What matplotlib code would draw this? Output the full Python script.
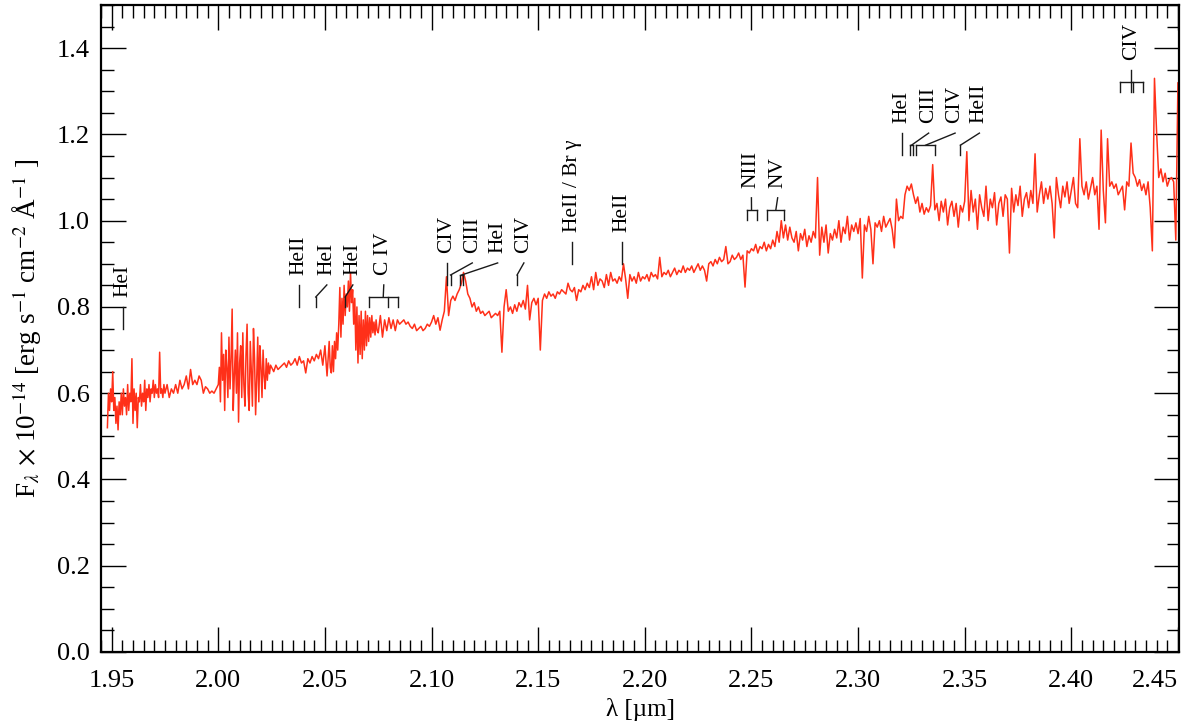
import numpy as np
import matplotlib
matplotlib.use('Agg')
import matplotlib.pyplot as plt
from matplotlib.ticker import MultipleLocator, FormatStrFormatter

plt.rcParams['font.family'] = ['Liberation Serif', 'DejaVu Serif']
plt.rcParams['mathtext.fontset'] = 'stix'

seg_a_start, seg_a_step = 1.948, 0.0005
seg_a = [
    0.52, 0.60, 0.56, 0.61, 0.58, 0.65, 0.56, 0.59, 0.53, 0.57,
    0.515, 0.58, 0.55, 0.60, 0.55, 0.61, 0.57, 0.59, 0.55, 0.62,
    0.56, 0.60, 0.58, 0.68, 0.53, 0.61, 0.56, 0.60, 0.52, 0.59,
    0.58, 0.62, 0.57, 0.60, 0.58, 0.63, 0.56, 0.61, 0.59, 0.62,
    0.58, 0.61, 0.60, 0.63, 0.59, 0.62, 0.60, 0.61, 0.59, 0.695,
    0.60, 0.61, 0.59, 0.62, 0.60,
]
seg_b_start, seg_b_step = 1.976, 0.001
seg_b = [
    0.62, 0.59, 0.61, 0.60,
    0.62, 0.60, 0.63, 0.61, 0.62, 0.64, 0.61, 0.655, 0.62, 0.63,
    0.62, 0.64, 0.63, 0.60, 0.615, 0.61, 0.60, 0.605, 0.60, 0.61,
]
seg_c_start, seg_c_step = 2.000, 0.0005
seg_c = [
    0.62, 0.66, 0.58, 0.74, 0.63, 0.69, 0.56, 0.70, 0.66, 0.59,
    0.73, 0.61, 0.68, 0.795, 0.56, 0.64, 0.70, 0.60, 0.74, 0.533,
    0.67, 0.71, 0.59, 0.74, 0.62, 0.57, 0.69, 0.76, 0.60, 0.56,
    0.72, 0.65, 0.57, 0.75, 0.68, 0.55, 0.63, 0.73, 0.58, 0.71,
    0.66, 0.59, 0.70, 0.64, 0.61, 0.68, 0.63, 0.67, 0.645, 0.665,
    0.66,
]
seg_d_start, seg_d_step = 2.026, 0.001
seg_d = [
    0.65, 0.665, 0.655, 0.66,
    0.665, 0.67, 0.66, 0.675, 0.665, 0.67, 0.68, 0.665, 0.685, 0.67,
    0.675, 0.647, 0.68, 0.67, 0.685, 0.675, 0.69, 0.68, 0.70, 0.665,
    0.71, 0.64, 0.72,
]
seg_e_start, seg_e_step = 2.0525, 0.0005
seg_e = [
    0.66, 0.647, 0.71, 0.65, 0.72, 0.68, 0.74, 0.70,
    0.76, 0.845, 0.73, 0.82, 0.76, 0.85, 0.78, 0.83, 0.80, 0.86,
    0.79, 0.88, 0.81, 0.84, 0.76, 0.82, 0.70, 0.80, 0.67, 0.78,
    0.69, 0.79, 0.68, 0.77, 0.70, 0.79, 0.71, 0.78, 0.72, 0.775,
    0.73, 0.78, 0.74, 0.765, 0.735, 0.77, 0.745,
]
seg_f_start, seg_f_step = 2.075, 0.001
seg_f = [
    0.74, 0.78, 0.73, 0.77, 0.745,                                     # 2.075
    0.775, 0.75, 0.77, 0.745, 0.77, 0.76, 0.765, 0.77, 0.76, 0.765,   # 2.080
    0.755, 0.75, 0.76, 0.745, 0.75, 0.755, 0.745, 0.75, 0.76, 0.755,  # 2.090
    0.765, 0.78, 0.76, 0.775, 0.746, 0.77, 0.79, 0.87, 0.78, 0.815,   # 2.100
    0.825, 0.815, 0.83, 0.84, 0.855, 0.88, 0.86, 0.83, 0.82, 0.80,    # 2.110
    0.81, 0.79, 0.80, 0.785, 0.79, 0.78, 0.785, 0.79, 0.775, 0.78,    # 2.120
    0.785, 0.78, 0.79, 0.695, 0.80, 0.84, 0.79, 0.80, 0.785, 0.805,   # 2.130
    0.79, 0.81, 0.80, 0.815, 0.795, 0.85, 0.77, 0.81, 0.82, 0.805,    # 2.140
    0.82, 0.70, 0.815, 0.83, 0.82, 0.835, 0.825, 0.83, 0.82, 0.835,   # 2.150
    0.83, 0.84, 0.835, 0.83, 0.855, 0.84, 0.835, 0.845, 0.815, 0.84,  # 2.160
    0.835, 0.85, 0.84, 0.855, 0.845, 0.87, 0.84, 0.88, 0.85, 0.865,   # 2.170
    0.86, 0.845, 0.875, 0.85, 0.88, 0.86, 0.865, 0.855, 0.87, 0.86,   # 2.180
    0.90, 0.865, 0.82, 0.875, 0.86, 0.87, 0.855, 0.88, 0.86, 0.87,    # 2.190
    0.865, 0.875, 0.86, 0.88, 0.87, 0.875, 0.865, 0.915, 0.87, 0.88,  # 2.200
    0.875, 0.885, 0.87, 0.88, 0.89, 0.875, 0.885, 0.88, 0.895, 0.88,  # 2.210
    0.89, 0.885, 0.895, 0.88, 0.89, 0.90, 0.885, 0.895, 0.885, 0.86,  # 2.220
    0.90, 0.905, 0.895, 0.91, 0.90, 0.915, 0.905, 0.91, 0.94, 0.90,   # 2.230
    0.905, 0.92, 0.91, 0.915, 0.925, 0.91, 0.92, 0.846, 0.93, 0.925,  # 2.240
    0.935, 0.93, 0.945, 0.925, 0.94, 0.935, 0.95, 0.93, 0.945, 0.935, # 2.250
    0.955, 0.94, 0.975, 0.95, 1.00, 0.96, 0.99, 0.955, 0.985, 0.96,   # 2.260
    0.95, 0.975, 0.93, 0.97, 0.955, 0.98, 0.94, 0.965, 0.95, 0.975,   # 2.270
    0.96, 1.10, 0.92, 0.985, 0.95, 0.99, 0.925, 0.97, 0.955, 0.98,    # 2.280
    0.96, 1.00, 0.95, 0.985, 0.97, 1.01, 0.955, 0.99, 0.975, 0.995,   # 2.290
    0.97, 1.005, 0.867, 0.99, 0.975, 1.01, 0.98, 0.90, 0.995, 0.985,  # 2.300
    1.00, 0.975, 1.01, 0.985, 0.995, 1.005, 0.98, 0.937, 1.05, 1.00,  # 2.310
    1.01, 1.005, 1.06, 1.08, 1.07, 1.085, 1.06, 1.04, 1.055, 1.02,    # 2.320
    1.04, 1.015, 1.03, 1.02, 1.035, 1.13, 1.025, 1.04, 1.00, 1.045,   # 2.330
    1.02, 1.05, 0.99, 1.03, 1.045, 1.01, 1.04, 0.985, 1.035, 1.02,    # 2.340
    1.045, 1.16, 1.00, 1.07, 1.02, 1.05, 0.98, 1.06, 1.03, 1.01,      # 2.350
    1.08, 1.00, 1.05, 1.03, 1.065, 0.99, 1.04, 1.055, 1.01, 1.06,     # 2.360
    1.05, 0.925, 1.075, 1.02, 1.06, 1.035, 1.08, 1.01, 1.05, 1.065,   # 2.370
    1.03, 1.07, 1.04, 1.155, 1.02, 1.06, 1.09, 1.04, 1.075, 1.05,     # 2.380
    1.08, 1.04, 0.96, 1.10, 1.06, 1.03, 1.08, 1.055, 1.09, 1.04,      # 2.390
    1.07, 1.10, 1.04, 1.03, 1.19, 1.08, 1.06, 1.09, 1.05, 1.075,      # 2.400
    1.10, 1.06, 1.08, 0.98, 1.21, 1.07, 0.995, 1.19, 1.08, 1.09,      # 2.410
    1.075, 1.085, 1.06, 1.07, 1.08, 1.025, 1.09, 1.08, 1.18, 1.11,    # 2.420
    1.10, 1.08, 1.095, 1.07, 1.085, 1.06, 1.09, 1.03, 0.93, 1.33,     # 2.430
    1.205, 1.10, 1.12, 1.09, 1.11, 1.08, 1.095, 1.10, 1.09, 0.955,    # 2.440
    1.32, 1.08,                                                       # 2.450
]

# line identifications
line_labels = ['HeI', 'HeII', 'HeI', 'HeI', 'C IV', 'CIV', 'CIII', 'HeI', 'CIV',
               'HeII / Br γ', 'HeII', 'NIII', 'NV', 'HeI', 'CIII', 'CIV', 'HeII', 'CIV']
label_wl = [1.9552, 2.0380, 2.0509, 2.0631, 2.0776, 2.1071, 2.1191, 2.1310, 2.1433,
            2.1660, 2.1893, 2.2500, 2.2623, 2.3207, 2.3331, 2.3455, 2.3569, 2.4281]
line_wl = [[1.9552], [2.0380], [2.0457], [2.0595], [2.0705, 2.0796, 2.0842],
           [2.1071], [2.1089], [2.1135, 2.1147], [2.1401],
           [2.1660], [2.1893], [2.2477, 2.2524], [2.2574, 2.2655],
           [2.3207], [2.3244, 2.3257], [2.3271, 2.3363], [2.3480],
           [2.4228, 2.4280, 2.4288, 2.4334]]
mark_top = [0.800, 0.851, 0.851, 0.851, 0.851, 0.902, 0.902, 0.902, 0.902,
            0.951, 0.951, 1.053, 1.053, 1.203, 1.203, 1.203, 1.203, 1.349]

segments = [(seg_a_start, seg_a_step, seg_a), (seg_b_start, seg_b_step, seg_b),
            (seg_c_start, seg_c_step, seg_c), (seg_d_start, seg_d_step, seg_d),
            (seg_e_start, seg_e_step, seg_e), (seg_f_start, seg_f_step, seg_f)]
wl = np.concatenate([s0 + ds * np.arange(len(v)) for s0, ds, v in segments])
flux = np.concatenate([v for _, _, v in segments])

fig = plt.figure(figsize=(11.88, 7.24), dpi=100)
ax = fig.add_axes([101 / 1188, 72 / 724, 1078 / 1188, 647 / 724])

ax.plot(wl, flux, color='#ff3019', lw=1.1)

# markers for identified lines
for name, lx, lines, top in zip(line_labels, label_wl, line_wl, mark_top):
    mid = top - 0.028
    bot = top - 0.051
    kw = dict(color='#1a1a1a', lw=1.0)
    if len(lines) == 1 and abs(lines[0] - lx) < 1e-6:
        ax.plot([lx, lx], [top, bot], **kw)
    else:
        center = 0.5 * (min(lines) + max(lines))
        ax.plot([lx, center], [top, mid], **kw)
        if len(lines) > 1:
            ax.plot([min(lines), max(lines)], [mid, mid], **kw)
        for w in lines:
            ax.plot([w, w], [mid, bot], **kw)
    ax.text(lx, top + 0.023, name, rotation=90, ha='center', va='bottom', fontsize=15.5)

ax.set_xlim(1.945, 2.4505)
ax.set_ylim(0, 1.5)
ax.xaxis.set_major_locator(MultipleLocator(0.05))
ax.xaxis.set_minor_locator(MultipleLocator(0.005))
ax.yaxis.set_major_locator(MultipleLocator(0.2))
ax.yaxis.set_minor_locator(MultipleLocator(0.05))
ax.xaxis.set_major_formatter(FormatStrFormatter('%.2f'))
ax.yaxis.set_major_formatter(FormatStrFormatter('%.1f'))
ax.tick_params(which='both', direction='in', top=True, right=True, labelsize=19, width=1.0)
ax.tick_params(which='major', length=18, pad=8)
ax.tick_params(axis='x', which='major', pad=13)
ax.tick_params(which='minor', length=9)
for sp in ax.spines.values():
    sp.set_linewidth(1.6)

ax.set_xlabel('λ [µm]', fontsize=18, labelpad=4)
ax.set_ylabel(r'F$_\lambda$ $\times$ 10$^{-14}$ [erg s$^{-1}$ cm$^{-2}$ Å$^{-1}$ ]',
              fontsize=19.5, labelpad=9)

fig.canvas.draw()
last = [t for t in ax.xaxis.get_major_ticks() if abs(t.get_loc() - 2.45) < 1e-6]
for t in last:
    t.label1.set_horizontalalignment('right')

fig.savefig('out.png', dpi=100)
